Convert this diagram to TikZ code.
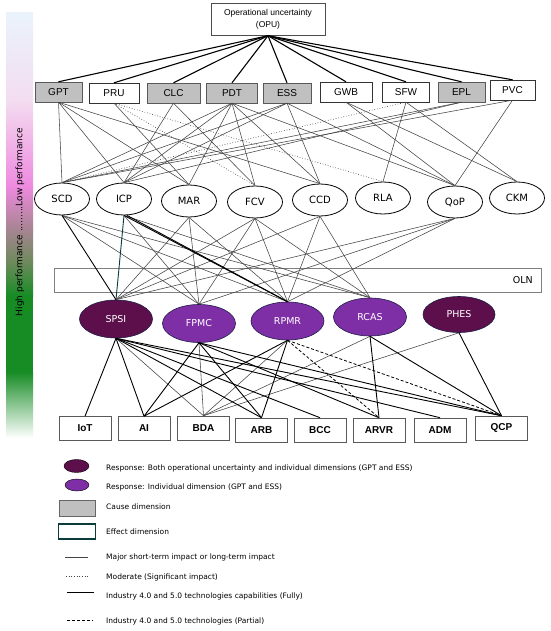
\documentclass[tikz,border=0pt]{standalone}
\usepackage{fontspec}
\setmainfont{Liberation Sans}
\newfontfamily\dvfont{DejaVu Sans}
\usetikzlibrary{shapes.geometric}
\definecolor{causegray}{HTML}{C0C0C0}
\definecolor{respdark}{HTML}{5C0F4B}
\definecolor{resppurple}{HTML}{7F2FA6}
\definecolor{respline}{HTML}{1E1E46}
\definecolor{effteal}{HTML}{0B3B3B}
\definecolor{linegray}{HTML}{444444}
\definecolor{bartop}{HTML}{EAF3FB}
\definecolor{barlav}{HTML}{F3DDF0}
\definecolor{barpink}{HTML}{EE8ADF}
\definecolor{barmauve}{HTML}{A98494}
\definecolor{barolive}{HTML}{6E8A5C}
\definecolor{bargreen}{HTML}{178C25}
\tikzset{
  cause/.style={draw=black!65,fill=causegray,minimum height=20pt,inner sep=0pt,font=\fontsize{10}{12}\selectfont},
  effect/.style={cause,draw=black!80,fill=white},
  dim/.style={ellipse,draw,line width=0.8pt,fill=white,minimum width=55pt,minimum height=32pt,inner sep=0pt,font=\dvfont\fontsize{10}{12}\selectfont},
  resp/.style={ellipse,draw=respline,line width=0.6pt,fill=resppurple,text=white,minimum width=73pt,minimum height=38pt,inner sep=0pt,font=\dvfont\fontsize{9.5}{11}\selectfont},
  respboth/.style={resp,fill=respdark},
  tech/.style={draw=black!65,line width=0.6pt,fill=white,minimum width=52pt,minimum height=24pt,inner sep=0pt,font=\bfseries\fontsize{10}{12}\selectfont},
  legtext/.style={anchor=west,inner sep=0pt,font=\dvfont\fontsize{7.5}{9}\selectfont},
  opuline/.style={line width=1.1pt},
  impact/.style={draw=linegray,line width=0.55pt},
  moderate/.style={impact,line width=0.65pt,dotted},
  fully/.style={line width=0.9pt},
  partial/.style={line width=0.8pt,dash pattern=on 3pt off 2pt}
}
\begin{document}
\begin{tikzpicture}[x=1pt,y=-1pt]
\useasboundingbox[fill=white] (0,0) rectangle (550,631);

\shade[top color=bartop,bottom color=barlav] (6,13) rectangle (33,100);
\shade[top color=barlav,bottom color=barpink] (6,100) rectangle (33,186);
\shade[top color=barpink,bottom color=barmauve] (6,186) rectangle (33,228);
\shade[top color=barmauve,bottom color=barolive] (6,228) rectangle (33,262);
\shade[top color=barolive,bottom color=bargreen] (6,262) rectangle (33,296);
\fill[bargreen] (6,296) rectangle (33,372);
\shade[top color=bargreen,bottom color=white] (6,372) rectangle (33,438);
\node[rotate=90,text=black,font=\dvfont\fontsize{9}{10}\selectfont] (perf) at (20,222) {High performance .........Low performance};

\node[draw=black!70,fill=white,minimum width=114pt,minimum height=32pt,align=center,font=\fontsize{8.5}{12}\selectfont] (OPU) at (268,19.5) {Operational uncertainty\\(OPU)};

\node[draw=black!50,minimum width=487pt,minimum height=24pt] (OLN) at (297.5,280) {};
\node[anchor=east,font=\dvfont\fontsize{9.5}{11}\selectfont] (olnlabel) at ([xshift=-5pt]OLN.east) {OLN};

\foreach \n/\x/\y/\w/\s in {GPT/58.5/92/47pt/cause,PRU/114/93/50pt/effect,CLC/173.5/93/53pt/cause,PDT/232/93/51pt/cause,ESS/287/93/48pt/cause,GWB/346/92/52pt/effect,SFW/406/92/47pt/effect,EPL/461.5/92/47pt/cause,PVC/512.5/90/45pt/effect}
  \node[\s,minimum width=\w] (\n) at (\x,\y) {\n};

\foreach \n/\x/\y in {SCD/62/199,ICP/124/199,MAR/189/201,FCV/255/202,CCD/320/200,RLA/383/198,QoP/455/202,CKM/517/198}
  \node[dim] (\n) at (\x,\y) {\n};

\node[respboth] (SPSI) at (116,319) {SPSI};
\node[resp] (FPMC) at (199,323.5) {FPMC};
\node[resp] (RPMR) at (287.5,321) {RPMR};
\node[resp] (RCAS) at (370,317) {RCAS};
\node[respboth,minimum width=72pt,minimum height=36pt] (PHES) at (459,314.5) {PHES};

\foreach \n/\x/\y in {IoT/85/428.5,AI/144/428.5,BDA/203.5/428,ARB/261.5/430,BCC/320/430,ARVR/379/430,ADM/440/430,QCP/501.5/428}
  \node[tech] (\n) at (\x,\y) {\n};

\foreach \c in {GPT,PRU,CLC,PDT,ESS,GWB,SFW,EPL,PVC}
  \draw[opuline] (OPU.south) -- (\c.north);

\foreach \a/\b in {GPT/SCD,GPT/ICP,GPT/MAR,GPT/CCD,PRU/MAR,CLC/ICP,CLC/FCV,PDT/SCD,PDT/ICP,PDT/MAR,PDT/FCV,PDT/CCD,PDT/QoP,ESS/SCD,ESS/ICP,ESS/CCD,ESS/QoP,GWB/QoP,GWB/CKM,SFW/RLA,SFW/CKM,EPL/SCD,EPL/ICP,PVC/SCD,PVC/QoP}
  \draw[impact] (\a.south) -- (\b.north);
\foreach \a/\b in {PRU/FCV,PRU/RLA,SFW/SCD}
  \draw[moderate] (\a.south) -- (\b.north);

\foreach \a/\b in {SCD/FPMC,SCD/RPMR,SCD/RCAS,ICP/FPMC,ICP/RCAS,MAR/SPSI,MAR/FPMC,MAR/RPMR,FCV/SPSI,FCV/FPMC,FCV/RPMR,FCV/RCAS,CCD/SPSI,CCD/RPMR,CCD/RCAS,QoP/SPSI,QoP/FPMC,QoP/RPMR}
  \draw[impact] (\a.south) -- (\b.north);
\draw[fully] (SCD.south) -- (SPSI.north);
\draw[fully] (ICP.south) -- (RPMR.north);
\draw[fully] ([xshift=3pt]ICP.south) -- (RPMR.north);
\draw[fully,draw=effteal] (ICP.south) -- (SPSI.north);

\foreach \a/\b in {SPSI/BDA,FPMC/BDA,RPMR/BDA,RCAS/BDA,PHES/BDA}
  \draw[impact] (\a.south) -- (\b.north);
\foreach \a/\b in {SPSI/IoT,SPSI/AI,SPSI/ARB,SPSI/BCC,SPSI/ADM,SPSI/QCP,FPMC/AI,FPMC/ARB,FPMC/ARVR,FPMC/QCP,RPMR/AI,RPMR/ARB,RCAS/ARVR,RCAS/QCP,PHES/QCP}
  \draw[fully] (\a.south) -- (\b.north);
\foreach \a/\b in {RPMR/ARVR,RPMR/QCP}
  \draw[partial] (\a.south) -- (\b.north);

\node[ellipse,draw,fill=respdark,minimum width=25pt,minimum height=13pt,inner sep=0pt] (legboth) at (76.5,466) {};
\node[ellipse,draw,fill=resppurple,minimum width=24pt,minimum height=12pt,inner sep=0pt] (legresp) at (77,485) {};
\node[draw=black!60,fill=causegray,minimum width=36pt,minimum height=16pt,inner sep=0pt] (legcause) at (77,508) {};
\node[draw=effteal,line width=1.2pt,minimum width=37pt,minimum height=15pt,inner sep=0pt] (legeffect) at (77,531.5) {};
\draw[impact] (65,557) -- (88,557);
\draw[moderate] (66,576) -- (89,576);
\draw[fully] (67,592) -- (94,592);
\draw[partial] (67,620) -- (93,620);

\node[legtext] (tboth) at (106,468) {Response: Both operational uncertainty and individual dimensions (GPT and ESS)};
\node[legtext] (tresp) at (106,487) {Response: Individual dimension (GPT and ESS)};
\node[legtext] (tcause) at (106,507) {Cause dimension};
\node[legtext] (teffect) at (106,532) {Effect dimension};
\node[legtext] (tmajor) at (106,557) {Major short-term impact or long-term impact};
\node[legtext] (tmod) at (106,577) {Moderate (Significant impact)};
\node[legtext] (tfully) at (106,596) {Industry 4.0 and 5.0 technologies capabilities (Fully)};
\node[legtext] (tpartial) at (106,621) {Industry 4.0 and 5.0 technologies (Partial)};
\end{tikzpicture}
\end{document}
